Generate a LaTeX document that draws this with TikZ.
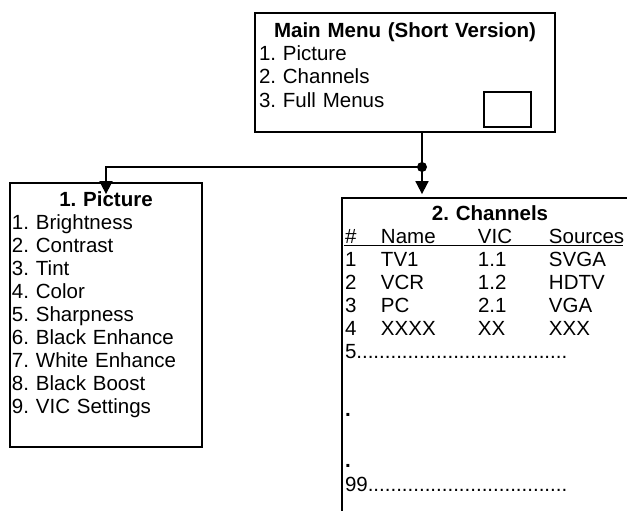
\documentclass[tikz,border=0pt]{standalone}
\usepackage{fontspec}
\setmainfont{Liberation Sans}
\usetikzlibrary{arrows.meta}

\newcommand{\chrow}[4]{\makebox[36pt][l]{#1}\makebox[97pt][l]{#2}\makebox[71pt][l]{#3}#4}
\newcommand{\menufont}{\frenchspacing\fontsize{20.5pt}{23pt}\selectfont}

\begin{document}
\begin{tikzpicture}[x=1pt,y=-1pt,>={Triangle[width=13pt,length=13pt]},
node distance=23pt,line width=1.8pt,
menu box/.style={draw,inner sep=0pt},
main node/.style={font=\menufont,inner sep=0pt,text height=15pt,text depth=5pt,
text width=#1,align=left},
title node/.style={main node=#1,align=center,font=\menufont\bfseries}]

\useasboundingbox (0,0) rectangle (627,511);
\clip (0,0) rectangle (627,511);

% main menu
\node[menu box,minimum width=300pt,minimum height=119pt] (main) at (405,72.5) {};
\node[menu box,minimum width=47pt,minimum height=35pt] (mb) at (507.5,109.5) {};
\node[title node=292pt] (mt) at (405,33) {Main Menu (Short Version)};
\node[main node=292pt] (m1) [below of=mt] {1. Picture};
\node[main node=292pt] (m2) [below of=m1] {2. Channels};
\node[main node=292pt] (m3) [below of=m2] {3. Full Menus};

% picture menu
\node[menu box,minimum width=192pt,minimum height=264pt] (pic) at (106,315) {};
\node[title node=188pt] (pt) at (106,201) {1. Picture};
\node[main node=188pt] (p1) [below of=pt] {1. Brightness};
\node[main node=188pt] (p2) [below of=p1] {2. Contrast};
\node[main node=188pt] (p3) [below of=p2] {3. Tint};
\node[main node=188pt] (p4) [below of=p3] {4. Color};
\node[main node=188pt] (p5) [below of=p4] {5. Sharpness};
\node[main node=188pt] (p6) [below of=p5] {6. Black Enhance};
\node[main node=188pt] (p7) [below of=p6] {7. White Enhance};
\node[main node=188pt] (p8) [below of=p7] {8. Black Boost};
\node[main node=188pt] (p9) [below of=p8] {9. VIC Settings};

% channels menu
\node[menu box,minimum width=358pt,minimum height=404pt] (ch) at (521,400) {};
\node[title node=290pt] (ct) at (490,215) {2. Channels};
\node[main node=290pt] (chh) at (490,238) {\chrow{\#}{Name}{VIC}{Sources}};
\node[main node=290pt] (c1) [below of=chh] {\chrow{1}{TV1}{1.1}{SVGA}};
\node[main node=290pt] (c2) [below of=c1] {\chrow{2}{VCR}{1.2}{HDTV}};
\node[main node=290pt] (c3) [below of=c2] {\chrow{3}{PC}{2.1}{VGA}};
\node[main node=290pt] (c4) [below of=c3] {\chrow{4}{XXXX}{XX}{XXX}};
\node[main node=290pt] (c5) [below of=c4] {5.....................................};
\node[main node=290pt,font=\menufont\bfseries] (cd1) [below of=c5,node distance=58pt] {.};
\node[main node=290pt,font=\menufont\bfseries] (cd2) [below of=cd1,node distance=51pt] {.};
\node[main node=290pt] (c99) [below of=cd2,node distance=24pt] {99...................................};
\draw[line width=1.4pt] ([yshift=-2.5pt]chh.base west) -- ++(279,0);

% connectors
\coordinate (j) at (422,167);
\draw (main.south -| j) -- (j);
\fill (j) circle (5pt);
\draw[->] (j) -| ([yshift=-12pt]pic.north);
\draw[->,shorten >=3pt] (j) -- (ch.north -| j);
\end{tikzpicture}
\end{document}
